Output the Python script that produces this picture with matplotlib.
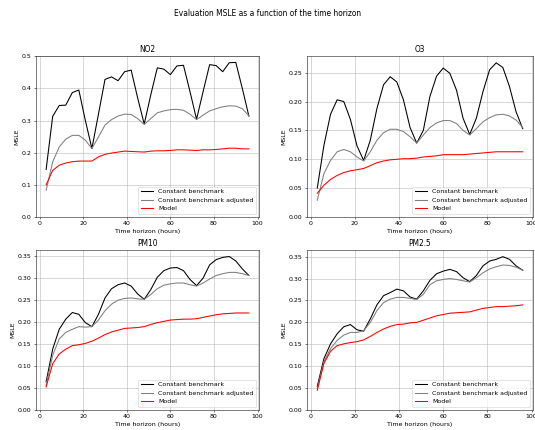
import matplotlib
matplotlib.use("Agg")
import matplotlib.pyplot as plt

hours = [3, 6, 9, 12, 15, 18, 21, 24, 27, 30, 33, 36, 39, 42, 45, 48,
         51, 54, 57, 60, 63, 66, 69, 72, 75, 78, 81, 84, 87, 90, 93, 96]

no2_const = [0.148, 0.313, 0.347, 0.348, 0.387, 0.395, 0.30, 0.213, 0.32, 0.428, 0.436, 0.424,
             0.452, 0.457, 0.37, 0.289, 0.38, 0.464, 0.460, 0.443, 0.470, 0.472, 0.39, 0.304,
             0.39, 0.474, 0.471, 0.452, 0.480, 0.481, 0.40, 0.314]
no2_adj = [0.083, 0.171, 0.218, 0.242, 0.254, 0.254, 0.239, 0.213, 0.249, 0.286, 0.303, 0.314,
           0.320, 0.319, 0.306, 0.288, 0.306, 0.324, 0.330, 0.334, 0.335, 0.332, 0.320, 0.303,
           0.317, 0.330, 0.337, 0.343, 0.346, 0.345, 0.337, 0.315]
no2_model = [0.100, 0.145, 0.161, 0.168, 0.172, 0.174, 0.174, 0.174, 0.187, 0.195, 0.199, 0.202,
             0.205, 0.204, 0.203, 0.202, 0.205, 0.206, 0.206, 0.207, 0.209, 0.209, 0.208, 0.207,
             0.209, 0.209, 0.210, 0.212, 0.214, 0.214, 0.212, 0.212]

o3_const = [0.050, 0.124, 0.178, 0.203, 0.200, 0.169, 0.123, 0.098, 0.133, 0.188, 0.229, 0.243,
            0.234, 0.203, 0.155, 0.128, 0.150, 0.209, 0.244, 0.258, 0.249, 0.220, 0.171, 0.143,
            0.171, 0.217, 0.255, 0.267, 0.259, 0.226, 0.182, 0.153]
o3_adj = [0.029, 0.075, 0.098, 0.113, 0.117, 0.113, 0.104, 0.097, 0.113, 0.133, 0.146, 0.152,
          0.152, 0.148, 0.139, 0.128, 0.142, 0.155, 0.163, 0.167, 0.167, 0.162, 0.150, 0.142,
          0.153, 0.165, 0.172, 0.177, 0.178, 0.175, 0.168, 0.155]
o3_model = [0.041, 0.055, 0.065, 0.072, 0.077, 0.080, 0.082, 0.084, 0.089, 0.094, 0.097, 0.099,
            0.100, 0.101, 0.101, 0.102, 0.104, 0.105, 0.106, 0.108, 0.108, 0.108, 0.108, 0.109,
            0.110, 0.111, 0.112, 0.113, 0.113, 0.113, 0.113, 0.113]

pm10_const = [0.064, 0.138, 0.183, 0.206, 0.221, 0.217, 0.198, 0.189, 0.217, 0.254, 0.275, 0.284,
              0.288, 0.281, 0.263, 0.251, 0.273, 0.301, 0.316, 0.322, 0.323, 0.316, 0.296, 0.282,
              0.299, 0.329, 0.341, 0.346, 0.348, 0.338, 0.320, 0.305]
pm10_adj = [0.056, 0.124, 0.161, 0.176, 0.183, 0.189, 0.188, 0.189, 0.204, 0.225, 0.240, 0.249,
            0.253, 0.254, 0.252, 0.251, 0.262, 0.275, 0.283, 0.286, 0.288, 0.288, 0.284, 0.281,
            0.288, 0.297, 0.305, 0.309, 0.312, 0.312, 0.309, 0.305]
pm10_model = [0.052, 0.105, 0.127, 0.138, 0.146, 0.148, 0.151, 0.156, 0.163, 0.171, 0.177, 0.181,
              0.185, 0.186, 0.187, 0.189, 0.194, 0.198, 0.201, 0.204, 0.205, 0.206, 0.206, 0.207,
              0.210, 0.213, 0.216, 0.218, 0.219, 0.220, 0.220, 0.220]

pm25_const = [0.054, 0.117, 0.151, 0.174, 0.190, 0.195, 0.183, 0.180, 0.208, 0.240, 0.261, 0.268,
              0.276, 0.272, 0.258, 0.253, 0.272, 0.296, 0.311, 0.317, 0.321, 0.316, 0.302, 0.293,
              0.307, 0.329, 0.340, 0.344, 0.350, 0.344, 0.329, 0.319]
pm25_adj = [0.049, 0.110, 0.140, 0.159, 0.171, 0.177, 0.177, 0.181, 0.200, 0.227, 0.245, 0.253,
            0.257, 0.257, 0.255, 0.252, 0.264, 0.286, 0.295, 0.298, 0.300, 0.298, 0.295, 0.292,
            0.302, 0.313, 0.322, 0.327, 0.331, 0.330, 0.326, 0.319]
pm25_model = [0.045, 0.106, 0.134, 0.147, 0.151, 0.154, 0.156, 0.160, 0.168, 0.177, 0.185, 0.191,
              0.195, 0.196, 0.199, 0.200, 0.205, 0.210, 0.215, 0.218, 0.221, 0.222, 0.223, 0.224,
              0.228, 0.232, 0.234, 0.236, 0.236, 0.237, 0.238, 0.240]

pollutants = ["NO2", "O3", "PM10", "PM2.5"]
series = {
    "NO2": (no2_const, no2_adj, no2_model),
    "O3": (o3_const, o3_adj, o3_model),
    "PM10": (pm10_const, pm10_adj, pm10_model),
    "PM2.5": (pm25_const, pm25_adj, pm25_model),
}
labels = ["Constant benchmark", "Constant benchmark adjusted", "Model"]
colors = ["black", "gray", "red"]

DPI = 45
fig = plt.figure(figsize=(535 / DPI, 430 / DPI), dpi=DPI)
rects = [
    [36 / 535, 1 - 217 / 430, 223 / 535, 161 / 430],
    [307 / 535, 1 - 217 / 430, 226 / 535, 161 / 430],
    [36 / 535, 1 - 410 / 430, 223 / 535, 160 / 430],
    [307 / 535, 1 - 410 / 430, 226 / 535, 160 / 430],
]
for name, rect in zip(pollutants, rects):
    ax = fig.add_axes(rect)
    for vals, lab, col in zip(series[name], labels, colors):
        ax.plot(hours, vals, color=col, label=lab, linewidth=1.7)
    ax.set_ylim(bottom=0)
    ax.set_title(name)
    ax.set_xlabel("Time horizon (hours)")
    ax.set_ylabel("MSLE")
    ax.grid(True)
    ax.legend(loc="lower right")

fig.suptitle("Evaluation MSLE as a function of the time horizon", y=0.978)
fig.savefig("out.png", dpi=DPI)
